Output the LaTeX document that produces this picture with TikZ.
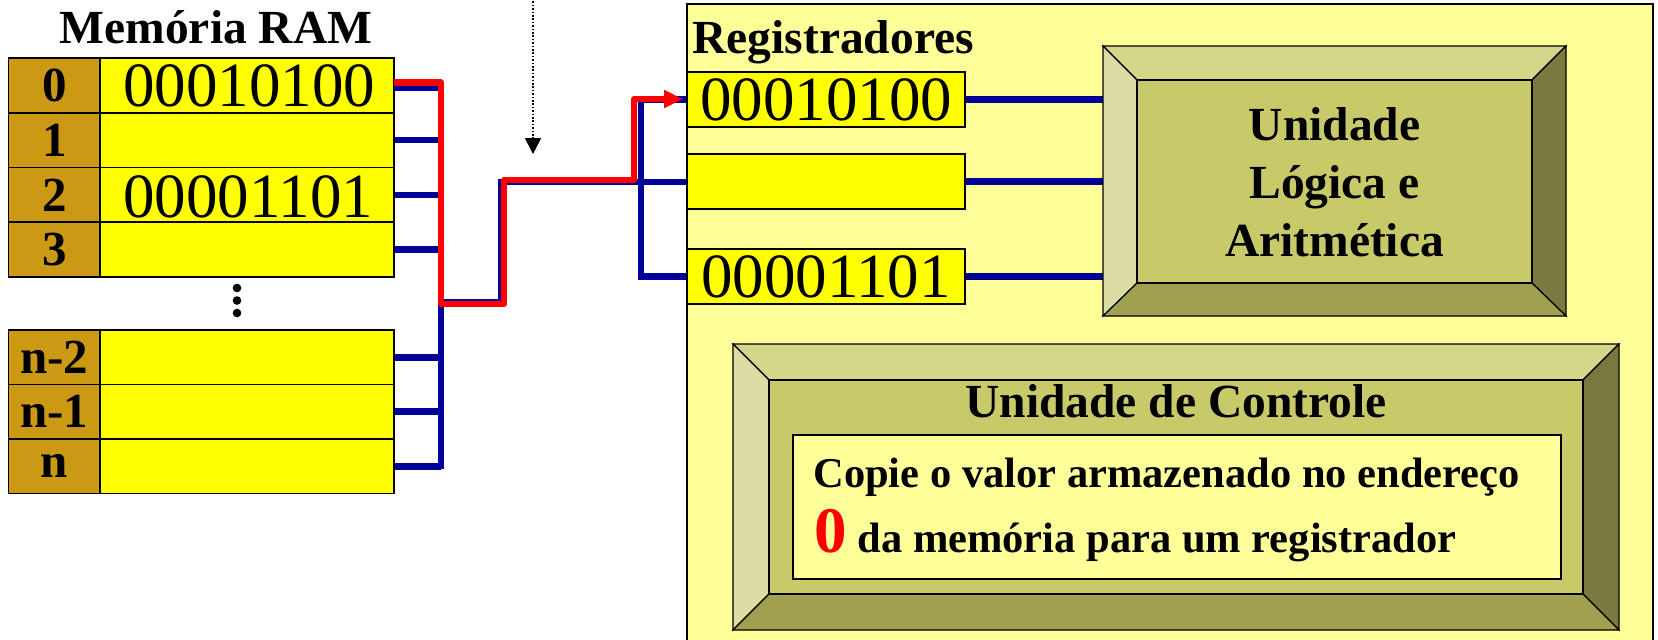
\documentclass[tikz,border=0pt]{standalone}
\usepackage{fontspec}
\setmainfont{Liberation Serif}
\usetikzlibrary{arrows.meta,calc}
\definecolor{idxgold}{RGB}{204,153,20}
\definecolor{celly}{RGB}{255,255,0}
\definecolor{panely}{RGB}{255,255,153}
\definecolor{busblue}{RGB}{0,0,153}
\definecolor{bevtop}{RGB}{212,214,138}
\definecolor{bevleft}{RGB}{220,221,165}
\definecolor{bevright}{RGB}{122,122,64}
\definecolor{bevbot}{RGB}{160,160,80}
\definecolor{bevface}{RGB}{200,202,106}
\newcommand\fDig{\fontsize{31.5}{36}\selectfont}
\newcommand\fLab{\bfseries\fontsize{24.5}{28}\selectfont}
\newcommand\fTit{\bfseries\fontsize{23.75}{29}\selectfont}
\newcommand\fCu{\bfseries\fontsize{21.25}{26}\selectfont}
\newcommand\fZero{\bfseries\fontsize{32.5}{36}\selectfont}
\tikzset{
  cell/.style={draw=black, line width=0.9pt, inner sep=0pt, minimum height=27.375pt},
  idx/.style={cell, fill=idxgold, minimum width=45.75pt, font=\fLab},
  dat/.style={cell, fill=celly, minimum width=147pt},
  cellb/.style={cell, minimum height=27.25pt},
  idxb/.style={cellb, fill=idxgold, minimum width=45.75pt, font=\fLab},
  datb/.style={cellb, fill=celly, minimum width=147pt},
  reg/.style={draw=black, line width=0.75pt, fill=celly, inner sep=0pt, minimum width=139pt, minimum height=27.5pt, font=\fDig},
  bus/.style={draw=busblue, line width=3.3pt},
  redw/.style={draw=red, line width=3.1pt, line join=round},
  bev/.style={draw=black, line width=0.6pt, line join=miter},
  txt/.style={inner sep=0pt},
}
\begin{document}
\begin{tikzpicture}[x=0.5pt,y=-0.5pt]
\useasboundingbox (0,0) rectangle (1658,639);
% register panel
\fill[panely] (687,4) rectangle (1653,660);
\draw[black, line width=0.8pt] (687,660) -- (687,4) -- (1653,4) -- (1653,660);
\node[txt, anchor=base west, font=\fTit] (regtitle) at (692,53) {Registradores};

% memory title
\node[txt, anchor=base, font=\fTit] (memtitle) at (216,43) {Memória RAM};

% memory cells
\node[idx] (i0) at (54.25,85.375) {0};
\node[dat] (d0) at (247,85.375) {};
\node[idx] (i1) at (54.25,140.125) {1};
\node[dat] (d1) at (247,140.125) {};
\node[idx] (i2) at (54.25,194.875) {2};
\node[dat] (d2) at (247,194.875) {};
\node[idx] (i3) at (54.25,249.625) {3};
\node[dat] (d3) at (247,249.625) {};
\node[idxb] (in2) at (54.25,357.25) {n-2};
\node[datb] (dn2) at (247,357.25) {};
\node[idxb] (in1) at (54.25,411.75) {n-1};
\node[datb] (dn1) at (247,411.75) {};
\node[idxb] (in0) at (54.25,466.25) {n};
\node[datb] (dn0) at (247,466.25) {};
\node[txt, anchor=base west, font=\fDig] (t0) at (123,106) {00010100};
\node[txt, anchor=base west, font=\fDig] (t2) at (123,217) {00001101};
\fill (237,288) circle (4.3);
\fill (237,300.5) circle (4.3);
\fill (237,313) circle (4.3);

% bus coordinates
\coordinate (bustop) at (441,84.5);
\coordinate (busbot) at (441,469);
\coordinate (bj) at (441,302);
\coordinate (bup) at (501,182);
\coordinate (bv1) at (641,99.5);
\coordinate (bv3) at (641,276.5);
\coordinate (s0a) at (394,87.4);
\coordinate (s0b) at (441,87.4);

% registers
\node[reg] (reg1) at (826,99.5) {00010100};
\node[reg] (reg2) at (826,181.5) {};
\node[reg] (reg3) at (826,276.5) {00001101};

% blue bus on memory side
\draw[bus] (bustop) -- (busbot);
\draw[bus] (s0a) -- (s0b);
\foreach \n in {d1,d2,d3,dn2,dn1,dn0}{
  \draw[bus] (\n.east) -- (\n.east -| bustop);
}
\draw[bus] (bj) -| (bup) -- (bup -| reg2.west);
\draw[bus] (reg1.west) -- (bv1) -- (bv3) -- (reg3.west);

% red path
\coordinate (rs) at (394,82.5);
\coordinate (r1) at (441,304);
\coordinate (r2) at (504,180);
\coordinate (r3) at (634,99);
\coordinate (rend) at (683,99);
\draw[redw, -{Triangle[length=9.5pt,width=8.5pt]}] (rs) -| (r1) -| (r2) -| (r3) -- (rend);

% dotted arrow
\coordinate (dtop) at (533,-2);
\coordinate (dend) at (533,154);
\draw[black, line width=0.8pt, dash pattern=on 0.8pt off 0.9pt, -{Triangle[length=8pt,width=8pt]}] (dtop) -- (dend);

% ALU
\node[draw=none, inner sep=0pt, minimum width=231.5pt, minimum height=135pt] (aluout) at (1334.5,181) {};
\draw[bus] (reg1.east) -- (reg1.east -| aluout.west);
\draw[bus] (reg2.east) -- (reg2.east -| aluout.west);
\draw[bus] (reg3.east) -- (reg3.east -| aluout.west);
\filldraw[bev, fill=bevtop] (1103,46) -- (1566,46) -- (1532,80) -- (1137,80) -- cycle;
\filldraw[bev, fill=bevleft] (1103,46) -- (1137,80) -- (1137,283) -- (1103,316) -- cycle;
\filldraw[bev, fill=bevright] (1566,46) -- (1566,316) -- (1532,283) -- (1532,80) -- cycle;
\filldraw[bev, fill=bevbot] (1103,316) -- (1566,316) -- (1532,283) -- (1137,283) -- cycle;
\node[bev, fill=bevface, inner sep=0pt, minimum width=197.5pt, minimum height=101.5pt] (aluface) at (1334.5,181.5) {};
\node[txt, align=center, font=\fTit] (alutext) at (1334.5,182) {Unidade\\Lógica e\\Aritmética};

% Control unit
\filldraw[bev, fill=bevtop] (733,344) -- (1619,344) -- (1583,380) -- (769,380) -- cycle;
\filldraw[bev, fill=bevleft] (733,344) -- (769,380) -- (769,594) -- (733,630) -- cycle;
\filldraw[bev, fill=bevright] (1619,344) -- (1619,630) -- (1583,594) -- (1583,380) -- cycle;
\filldraw[bev, fill=bevbot] (733,630) -- (1619,630) -- (1583,594) -- (769,594) -- cycle;
\node[bev, fill=bevface, inner sep=0pt, minimum width=407pt, minimum height=107pt] (cuface) at (1176,487) {};
\node[txt, anchor=base, font=\fTit] (cutitle) at (1176,417) {Unidade de Controle};
\node[draw=black, line width=0.75pt, fill=panely, inner sep=0pt, minimum width=384pt, minimum height=72pt] (cubox) at (1177,507) {};
\node[txt, anchor=base west, font=\fCu] (cu1) at (813,487) {Copie o valor armazenado no endereço};
\node[txt, anchor=base west, font=\fCu] (cu2) at (814,552) {\textcolor{red}{\fZero 0} da memória para um registrador};
\end{tikzpicture}
\end{document}
